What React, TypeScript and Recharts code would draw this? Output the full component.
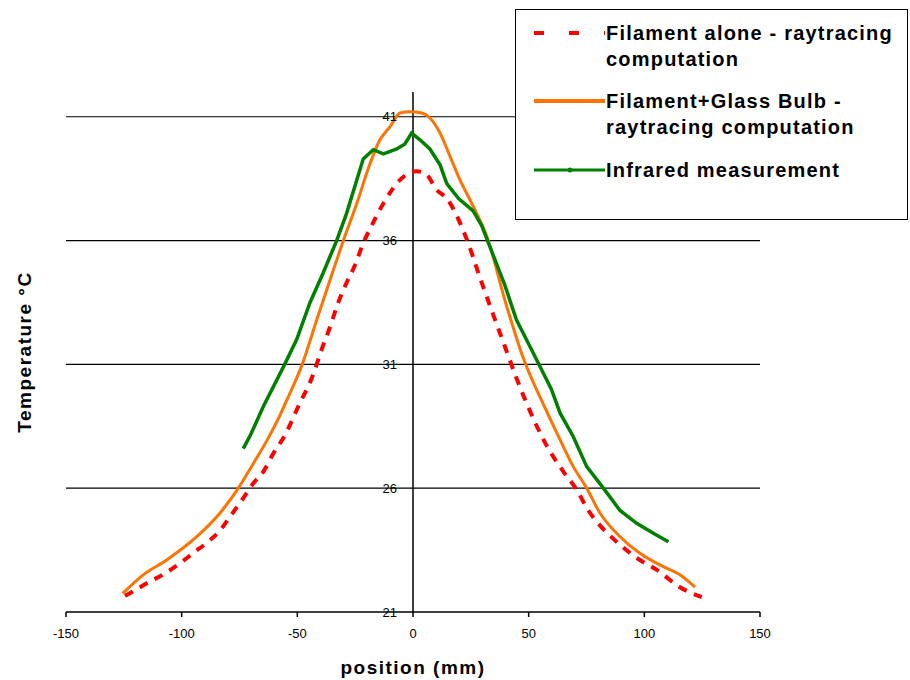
import React from 'react';
import { LineChart, Line, XAxis, YAxis, ReferenceLine, ReferenceDot } from 'recharts';

// position (mm) / temperature (°C)
const aloneX = [-124.5, -121.6, -115.1, -107.2, -100.7, -94.2, -88.5, -83.4, -79.1, -74.1, -69, -64.7, -60.4, -55.3, -49.6, -43.1, -39.5, -35.9, -32.3, -28.7, -25.1, -21.5, -17.9, -12.8, -5.6, 1.6, 5.9, 10.2, 14.6, 22.2, 29.7, 34.7, 39.8, 44.5, 49.7, 57.3, 65, 70.8, 75.8, 80.8, 88, 98.1, 105.4, 115.4, 124.8];
const aloneT = [21.65, 21.8, 22.16, 22.56, 22.97, 23.44, 23.84, 24.3, 24.85, 25.5, 26.2, 26.67, 27.4, 28.15, 29.3, 30.6, 31.6, 32.5, 33.5, 34.3, 35.0, 35.9, 36.6, 37.5, 38.45, 38.8, 38.66, 38.05, 37.7, 36.3, 34.3, 33.0, 31.7, 30.5, 29.3, 27.8, 26.67, 25.93, 25.1, 24.5, 23.84, 23.1, 22.7, 22.0, 21.6];

const bulbX = [-125.5, -116.6, -106.5, -93.5, -83.4, -75.5, -69, -63.3, -57.5, -54.6, -48.1, -41.6, -35.9, -30.1, -24.3, -18.6, -14.3, -9.9, -5.6, -1.3, 3.8, 7.3, 11.7, 16, 20.3, 25.4, 32.2, 39.7, 47.3, 57.3, 63.6, 69.3, 75.1, 80.8, 89.5, 98.1, 108.2, 115.4, 121.9];
const bulbT = [21.75, 22.5, 23.1, 24.04, 25.0, 26.0, 27.0, 27.9, 28.95, 29.55, 30.95, 32.8, 34.4, 36.0, 37.5, 39.1, 40.07, 40.6, 41.15, 41.2, 41.15, 40.95, 40.34, 39.4, 38.45, 37.5, 36.1, 33.6, 31.35, 29.2, 27.95, 26.87, 26.0, 25.0, 24.04, 23.37, 22.83, 22.5, 22.0];

const irX = [-73.4, -70.5, -64.7, -56, -50.3, -44.5, -38.8, -33, -28.7, -24.3, -21.5, -17.2, -12.8, -7, -3.5, -0.6, 3, 7.3, 11.7, 14.6, 19.7, 26, 29.7, 34.7, 39.7, 44.7, 52.3, 59.8, 63.6, 69.3, 75.1, 82.3, 89.5, 96.7, 103.9, 110.4];
const irT = [27.6, 28.1, 29.3, 30.9, 32.0, 33.5, 34.7, 36.0, 37.1, 38.45, 39.3, 39.67, 39.5, 39.7, 39.9, 40.34, 40.07, 39.7, 39.06, 38.3, 37.7, 37.2, 36.6, 35.4, 34.2, 32.8, 31.4, 30.0, 29.03, 28.08, 26.87, 26.0, 25.1, 24.58, 24.18, 23.84];

const xTicks = [-150, -100, -50, 0, 50, 100, 150];
const yTicks = [21, 26, 31, 36, 41];
const gridTicks = [26, 31, 36, 41];

const legendLines = [
  ['Filament alone - raytracing', 'computation'],
  ['Filament+Glass Bulb -', 'raytracing computation'],
  ['Infrared measurement'],
];

const RED = '#ff0000';
const ORANGE = '#ff7300';
const GREEN = '#008000';

const font = '"Liberation Sans", Arial, sans-serif';

const toPoints = (xs: number[], ts: number[]) => xs.map((x, i) => ({ x, t: ts[i] }));

const LegendBox = () => {
  const rows = [
    { top: 10, color: RED, dash: '10 25', lines: legendLines[0] },
    { top: 78, color: ORANGE, dash: undefined, lines: legendLines[1] },
    { top: 147, color: GREEN, dash: undefined, lines: legendLines[2] },
  ];
  return (
    <div
      style={{
        position: 'absolute', left: 515, top: 9, width: 393, height: 211,
        background: '#fff', border: '1.5px solid #000', boxSizing: 'border-box',
      }}
    >
      {rows.map((r, i) => (
        <div key={i} style={{ position: 'absolute', left: 0, top: r.top, width: '100%' }}>
          <svg width={90} height={26} style={{ position: 'absolute', left: 16, top: 0 }}>
            <line x1={2} y1={13} x2={73} y2={13} stroke={r.color} strokeWidth={i === 2 ? 3 : 4} strokeDasharray={r.dash} />
            {i === 2 && <circle cx={38} cy={13} r={2.5} fill={r.color} />}
          </svg>
          <div
            style={{
              position: 'absolute', left: 90, top: 0, fontFamily: font, fontWeight: 'bold',
              fontSize: 20, letterSpacing: 1.2, lineHeight: '26px', color: '#000', whiteSpace: 'nowrap',
            }}
          >
            {r.lines.map((l, j) => <div key={j}>{l}</div>)}
          </div>
        </div>
      ))}
    </div>
  );
};

export default function App() {
  return (
    <div style={{ position: 'absolute', left: 0, top: 0, width: 910, height: 680, background: '#fff' }}>
      <LineChart width={910} height={680} margin={{ top: 92, right: 150, left: 16, bottom: 38 }}>
        <XAxis
          dataKey="x"
          type="number"
          domain={[-150, 150]}
          ticks={xTicks}
          height={30}
          axisLine={{ stroke: '#000', strokeWidth: 1.5 }}
          tickLine={{ stroke: '#000', strokeWidth: 1.5 }}
          tickSize={5}
          tickMargin={12}
          tick={{ fill: '#000', fontSize: 13, fontFamily: font }}
          label={{
            value: 'position (mm)', position: 'bottom', offset: 19,
            style: { fill: '#000', fontSize: 19, fontWeight: 'bold', fontFamily: font, letterSpacing: 1.5 },
          }}
        />
        <YAxis
          type="number"
          domain={[21, 42]}
          ticks={yTicks}
          width={50}
          axisLine={false}
          tickLine={false}
          tick={false}
          label={{
            value: 'Temperature °C', angle: -90, position: 'insideLeft', offset: 8,
            style: { textAnchor: 'middle', fill: '#000', fontSize: 19, fontWeight: 'bold', fontFamily: font, letterSpacing: 1.5 },
          }}
        />
        {gridTicks.map((t) => (
          <ReferenceLine key={`g${t}`} y={t} stroke="#000" strokeWidth={1.2} />
        ))}
        <ReferenceLine x={0} stroke="#000" strokeWidth={1.5} />
        {yTicks.map((t) => (
          <ReferenceDot
            key={t}
            x={0}
            y={t}
            r={0}
            fill="none"
            stroke="none"
            label={{ value: String(t), position: 'left', offset: 16, fill: '#000', fontSize: 13, fontFamily: font }}
          />
        ))}
        <Line
          data={toPoints(bulbX, bulbT)}
          dataKey="t"
          type="monotone"
          stroke={ORANGE}
          strokeWidth={3}
          dot={false}
          isAnimationActive={false}
        />
        <Line
          data={toPoints(irX, irT)}
          dataKey="t"
          type="linear"
          stroke={GREEN}
          strokeWidth={3.5}
          dot={false}
          isAnimationActive={false}
        />
        <Line
          data={toPoints(aloneX, aloneT)}
          dataKey="t"
          type="monotone"
          stroke={RED}
          strokeWidth={4}
          strokeDasharray="9 8"
          dot={false}
          isAnimationActive={false}
        />
      </LineChart>
      <LegendBox />
    </div>
  );
}
